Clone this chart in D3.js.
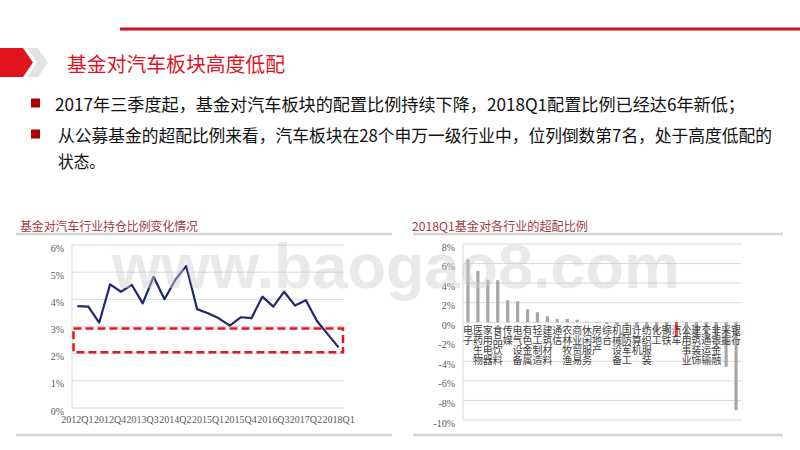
<!DOCTYPE html>
<html><head><meta charset="utf-8">
<script src="https://cdn.jsdelivr.net/npm/d3@7"></script>
<style>body{margin:0;background:#fff}svg{display:block}</style></head>
<body><svg id="c" width="800" height="450"></svg>
<script>
// ---- data ----
const quarters = ["2012Q1","2012Q2","2012Q3","2012Q4","2013Q1","2013Q2","2013Q3","2013Q4","2014Q1","2014Q2","2014Q3","2014Q4","2015Q1","2015Q2","2015Q3","2015Q4","2016Q1","2016Q2","2016Q3","2016Q4","2017Q1","2017Q2","2017Q3","2017Q4","2018Q1"];
const holdings = [3.75,3.73,3.14,4.55,4.28,4.53,3.85,4.83,4.00,4.72,5.23,3.64,3.49,3.30,3.03,3.34,3.31,4.10,3.73,4.28,3.77,3.97,3.21,2.72,2.23];
const tickQuarters = ["2012Q1","2012Q4","2013Q3","2014Q2","2015Q1","2015Q4","2016Q3","2017Q2","2018Q1"];
const leftTicks = [0,1,2,3,4,5,6];
const lowBand = [2.05, 2.93];
const industries = ["电子","医药生物","家用电器","食品饮料","传媒","电气设备","有色金属","轻工制造","建筑材料","通信","农林牧渔","商业贸易","休闲服务","房地产","综合","机械设备","国防军工","计算机","纺织服装","化工","钢铁","汽车","公用事业","建筑装饰","交通运输","非银金融","采掘","银行"];
const overweight = [6.43,5.24,4.35,4.30,2.24,2.14,1.33,1.02,0.61,0.34,0.34,0.25,0.06,-0.05,-0.2,-0.3,-0.35,-0.6,-0.75,-0.9,-1.0,-1.5,-1.55,-1.6,-1.7,-1.85,-4.55,-9.0];
const rightTicks = [8,6,4,2,0,-2,-4,-6,-8,-10];
const highlight = "汽车";
const pageTitle = "基金对汽车板块高度低配";
const bullets = [
  {lines:["2017年三季度起，基金对汽车板块的配置比例持续下降，2018Q1配置比例已经达6年新低；"], widths:[690]},
  {lines:["从公募基金的超配比例来看，汽车板块在28个申万一级行业中，位列倒数第7名，处于高度低配的","状态。"], widths:[714,47]}
];
const leftTitle = "基金对汽车行业持仓比例变化情况";
const rightTitle = "2018Q1基金对各行业的超配比例";

const svg = d3.select("#c");
const CJK = "'Noto Sans CJK SC','Noto Sans',sans-serif";
const AX = "'Liberation Serif','DejaVu Serif',serif";

// ---- header ----
svg.append("line").attr("x1",120).attr("x2",800).attr("y1",29).attr("y2",29)
  .attr("stroke","#d0101e").attr("stroke-width",3);
svg.append("path").attr("d","M0,48L23,48L33,62.5L23,77L0,77Z").attr("fill","#e0141e");
svg.append("path").attr("d","M27,48L38,48L48,62.5L38,77L27,77L37,62.5Z").attr("fill","#e3e3e3");
svg.append("text").attr("x",67).attr("y",63).attr("dominant-baseline","central")
  .attr("font-family",CJK).attr("font-size",20).attr("fill","#e0141e")
  .attr("textLength",218).attr("lengthAdjust","spacingAndGlyphs").text(pageTitle);

// bullets
const bY = [[103],[134,160]];
const bX = [55,58];
bullets.forEach((b,i)=>{
  svg.append("rect").attr("x",31).attr("y",bY[i][0]-4.5).attr("width",9).attr("height",9).attr("fill","#b00000");
  b.lines.forEach((ln,j)=>{
    svg.append("text").attr("x",bX[i]).attr("y",bY[i][j]).attr("dominant-baseline","central")
      .attr("font-family",CJK).attr("font-size",17).attr("fill","#111")
      .attr("textLength",b.widths[j]).attr("lengthAdjust","spacingAndGlyphs").text(ln);
  });
});

// panel titles and rules
[[20,16,392,leftTitle,178],[412,413,783,rightTitle,176]].forEach(([tx,x1,x2,t,w])=>{
  svg.append("text").attr("x",tx).attr("y",225).attr("dominant-baseline","central")
    .attr("font-family",CJK).attr("font-size",12).attr("fill","#a23b3b")
    .attr("textLength",w).attr("lengthAdjust","spacingAndGlyphs").text(t);
  svg.append("line").attr("x1",x1).attr("x2",x2).attr("y1",234).attr("y2",234).attr("stroke","#d4d4d4").attr("stroke-width",2.5);
  svg.append("line").attr("x1",x1).attr("x2",x2).attr("y1",435).attr("y2",435).attr("stroke","#d4d4d4").attr("stroke-width",2.5);
});

// ---- left chart ----
const lx = d3.scaleBand().domain(quarters).range([72,344]);
const ly = d3.scaleLinear().domain([0,6]).range([408,245]);
const gl = svg.append("g");
gl.selectAll("line.g").data(leftTicks).join("line")
  .attr("x1",72).attr("x2",344).attr("y1",d=>ly(d)).attr("y2",d=>ly(d))
  .attr("stroke","#d9d9d9").attr("stroke-width",1);
gl.append("line").attr("x1",72).attr("x2",72).attr("y1",ly(6)).attr("y2",ly(0)).attr("stroke","#d9d9d9");
gl.selectAll("text.y").data(leftTicks).join("text")
  .attr("x",64).attr("y",d=>ly(d)+3).attr("text-anchor","end").attr("dominant-baseline","central")
  .attr("font-family",AX).attr("font-size",10).attr("fill","#595959").text(d=>d+"%");
gl.selectAll("text.x").data(tickQuarters).join("text")
  .attr("x",d=>lx(d)+lx.bandwidth()/2).attr("y",419).attr("text-anchor","middle").attr("dominant-baseline","central")
  .attr("font-family",AX).attr("font-size",10).attr("fill","#595959").text(d=>d);
const line = d3.line().x((d,i)=>lx(quarters[i])+lx.bandwidth()/2).y(d=>ly(d));
gl.append("path").datum(holdings).attr("d",line).attr("fill","none")
  .attr("stroke","#1f2870").attr("stroke-width",2.2).attr("stroke-linejoin","round");
gl.append("rect")
  .attr("x",lx(quarters[0])+1.5).attr("y",ly(lowBand[1]))
  .attr("width",343-(lx(quarters[0])+1.5)).attr("height",ly(lowBand[0])-ly(lowBand[1]))
  .attr("fill","none").attr("stroke","#e8141e").attr("stroke-width",2.5).attr("stroke-dasharray","8,4");

// ---- right chart ----
const rx = d3.scaleBand().domain(industries).range([463,741]);
const ry = d3.scaleLinear().domain([-10,8]).range([420,244]);
const gr = svg.append("g");
gr.selectAll("line.g").data(rightTicks).join("line")
  .attr("x1",463).attr("x2",741).attr("y1",d=>ry(d)).attr("y2",d=>ry(d))
  .attr("stroke","#d9d9d9").attr("stroke-width",1);
gr.append("line").attr("x1",463).attr("x2",463).attr("y1",ry(8)).attr("y2",ry(-10)).attr("stroke","#d9d9d9");
gr.selectAll("text.y").data(rightTicks).join("text")
  .attr("x",455).attr("y",d=>ry(d)+3).attr("text-anchor","end").attr("dominant-baseline","central")
  .attr("font-family",AX).attr("font-size",10).attr("fill","#595959").text(d=>d+"%");
gr.selectAll("rect.b").data(industries).join("rect")
  .attr("x",d=>rx(d)+rx.bandwidth()/2-1.6).attr("width",3.2)
  .attr("y",(d,i)=>ry(Math.max(0,overweight[i]))).attr("height",(d,i)=>Math.abs(ry(overweight[i])-ry(0)))
  .attr("fill",d=>d===highlight?"#e8474c":"#a6a6a6");
gr.selectAll("text.c").data(industries).join("text")
  .attr("x",d=>rx(d)+rx.bandwidth()/2).attr("y",325)
  .attr("style","writing-mode:vertical-rl;text-orientation:upright")
  .attr("font-family",CJK).attr("font-size",10).attr("fill","#404040").text(d=>d);

// watermark
svg.append("text").attr("x",112).attr("y",288)
  .attr("font-family","'Liberation Sans',Arial,sans-serif").attr("font-weight","bold").attr("font-size",63)
  .attr("fill","#cfcfcf").attr("fill-opacity",0.45)
  .attr("textLength",568).attr("lengthAdjust","spacingAndGlyphs").text("www.baogao8.com");
</script></body></html>
